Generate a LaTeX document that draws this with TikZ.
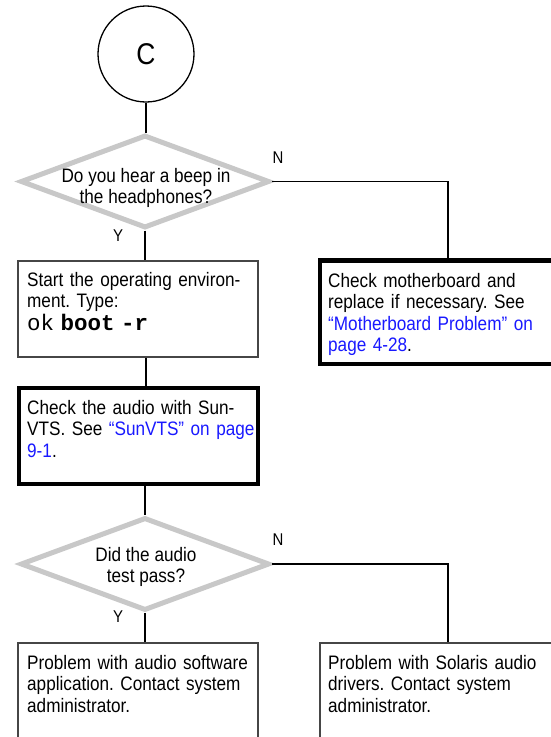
\documentclass[tikz,border=0pt]{standalone}
\usepackage{fontspec}
\setmainfont[FakeStretch=0.88]{Liberation Sans}
\setmonofont{Liberation Mono}
\usetikzlibrary{shapes.geometric}
\definecolor{diagray}{RGB}{200,200,200}
\definecolor{boxgray}{RGB}{70,70,70}
\definecolor{linkblue}{RGB}{25,25,255}
\newcommand{\lnk}[1]{\textcolor{linkblue}{#1}}
\frenchspacing
\tikzset{
  conn/.style={draw=black, line width=1.2pt},
  thinbox/.style={rectangle, draw=boxgray, line width=1.3pt, inner sep=0pt},
  thickbox/.style={rectangle, draw=black, line width=4.5pt, inner sep=0pt},
  dia/.style={diamond, draw=diagray, line width=5pt, inner sep=0pt, minimum width=249pt, minimum height=93pt},
  btext/.style={anchor=north west, inner sep=0pt, align=left, text width=300pt,
    font={\fontsize{19.5}{21.5}\selectfont\frenchspacing}},
  qtext/.style={inner sep=0pt, align=center, font={\fontsize{19.5}{21.5}\selectfont}},
  yn/.style={inner sep=0pt, font={\fontsize{17}{19}\selectfont}},
}
\begin{document}
\begin{tikzpicture}[x=1pt, y=-1pt]
\useasboundingbox (0,0) rectangle (551,737);
\clip (0,0) rectangle (551,737);
\fill[white] (0,0) rectangle (551,737);

% start connector
\node[circle, draw=black, line width=1.3pt, minimum size=96pt, inner sep=0pt,
  font={\fontsize{30}{32}\selectfont}] (c) at (146,54) {C};

% first decision
\node[dia] (d1) at (145,181.5) {};
\node[qtext] (d1t) at (146,188) {Do you hear a beep in\\the headphones?};
\node[yn] (n1) at (278,158) {N};
\node[yn] (y1) at (118,236) {Y};

% boxes
\node[thinbox, minimum width=240pt, minimum height=96pt] (b1) at (138,309) {};
\node[btext] (b1t) at (27,272) {Start the operating environ-\\ment. Type:\\[1pt]
  {\fontsize{22.5}{22}\selectfont\ttfamily ok \textbf{boot -r}}};

\node[thickbox, minimum width=239pt, minimum height=96pt] (b2) at (138.5,436) {};
\node[btext] (b2t) at (27,400) {Check the audio with Sun-\\VTS. See \lnk{``SunVTS'' on page}\\\lnk{9-1}.};

\node[thickbox, minimum width=280pt, minimum height=103.5pt] (mb) at (460,312) {};
\node[btext] (mbt) at (328,273) {Check motherboard and\\replace if necessary. See\\\lnk{``Motherboard Problem'' on}\\\lnk{page 4-28}.};

% second decision
\node[dia] (d2) at (145,564) {};
\node[qtext] (d2t) at (146,567) {Did the audio\\test pass?};
\node[yn] (n2) at (278,540) {N};
\node[yn] (y2) at (118,617) {Y};

\node[thinbox, minimum width=240pt, minimum height=117pt] (b3) at (138,701.5) {};
\node[btext] (b3t) at (27,655) {Problem with audio software\\application. Contact system\\administrator.};

\node[thinbox, minimum width=280pt, minimum height=117pt] (b4) at (460,701.5) {};
\node[btext] (b4t) at (328,655) {Problem with Solaris audio\\drivers. Contact system\\administrator.};

% corner points
\coordinate (k1) at (448,181.5);
\coordinate (k2) at (448,564);

% connectors
\draw[conn] (c.south) -- (c.south |- d1.north);
\draw[conn] (d1.south) -- (d1.south |- b1.north);
\draw[conn] (d1.east) -- (k1) -- (k1 |- mb.north);
\draw[conn] (b1.south -| c.center) -- (b2.north -| c.center);
\draw[conn] (b2.south -| d2.north) -- (d2.north);
\draw[conn] (d2.south) -- (d2.south |- b3.north);
\draw[conn] (d2.east) -- (k2) -- (k2 |- b4.north);
\end{tikzpicture}
\end{document}
